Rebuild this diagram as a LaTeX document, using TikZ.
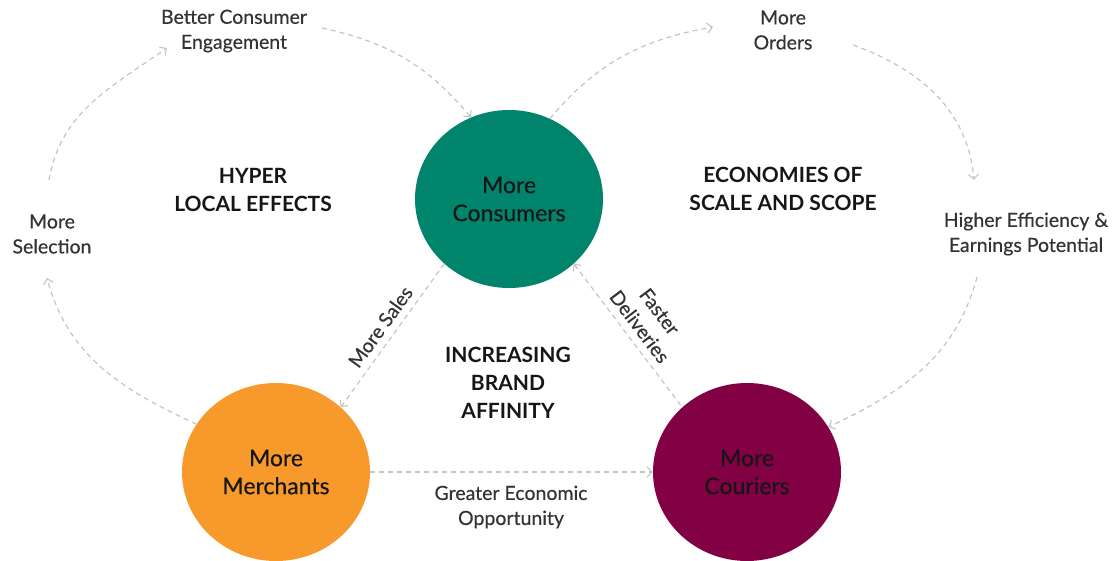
\documentclass[tikz,border=0pt]{standalone}
\usepackage{fontspec}
\setmainfont{Lato}
\newfontfamily\labelfont[FakeBold=0.35]{Lato}
\usetikzlibrary{arrows.meta,shapes.geometric}
\definecolor{consc}{HTML}{00846B}
\definecolor{merchc}{HTML}{F7992B}
\definecolor{courc}{HTML}{820044}
\definecolor{linkc}{HTML}{C4C4C4}
\definecolor{lblc}{HTML}{333333}
\definecolor{ttlc}{HTML}{161616}
\tikzset{mybarb/.tip={Straight Barb[length=5pt,width=10pt,line width=1.1pt]}}
\begin{document}
\begin{tikzpicture}[x=1pt,y=1pt,
  hub/.style={ellipse, minimum width=188pt, minimum height=178pt, inner sep=0pt,
    text=ttlc, align=center, font=\labelfont\fontsize{23}{28}\selectfont},
  lbl/.style={align=center, text=lblc, font=\labelfont\fontsize{19.5}{25}\selectfont, inner sep=2pt},
  ttl/.style={align=center, text=ttlc, font=\bfseries\fontsize{21}{28}\selectfont},
  link/.style={draw=linkc, line width=1.2pt, dash pattern=on 5pt off 4pt, -mybarb}
]
\useasboundingbox (0,0) rectangle (1115,560);
% hubs
\node[hub, fill=consc] (cons) at (509,361) {More\\Consumers};
\node[hub, fill=merchc] (merch) at (276,88) {More\\Merchants};
\node[hub, fill=courc] (cour) at (747,88) {More\\Couriers};
% labels
\node[lbl] (better) at (234,529) {Better Consumer\\Engagement};
\node[lbl] (selection) at (52,326) {More\\Selection};
\node[lbl] (orders) at (783,530) {More\\Orders};
\node[lbl] (higher) at (1026,326) {Higher Efficiency \&\\Earnings Potential};
\node[lbl] (greater) at (511,53) {Greater Economic\\Opportunity};
% titles
\node[ttl] (hyper) at (253,370) {HYPER\\LOCAL EFFECTS};
\node[ttl] (econ) at (783,371) {ECONOMIES OF\\SCALE AND SCOPE};
\node[ttl] (brand) at (508,177) {INCREASING\\BRAND\\AFFINITY};
% free ends of loop connectors
\coordinate (selin) at (47,282);
\coordinate (selout) at (49,380);
\coordinate (betin) at (167,512);
\coordinate (betout) at (322,532);
\coordinate (ordin) at (713,533);
\coordinate (ordout) at (853,515);
\coordinate (higin) at (974,380);
\coordinate (higout) at (977,283);
% left loop
\draw[link] (merch.149) to[out=155,in=-75] (selin);
\draw[link] (selout) to[out=80,in=215] (betin);
\draw[link] (betout) to[out=-12,in=130] (cons.115);
% right loop
\draw[link] (cons.63) to[out=50,in=190] (ordin);
\draw[link] (ordout) to[out=-20,in=95] (higin);
\draw[link] (higout) to[out=255,in=25] (cour.29);
% triangle
\draw[link] (cons.225) -- node[lbl, sloped, above=5pt] {More Sales} (merch.45);
\draw[link, mybarb-] (cons.-45) -- node[lbl, sloped, above=5pt] {Faster\\Deliveries} (cour.135);
\draw[link] (merch.east) -- (cour.west);
\end{tikzpicture}
\end{document}
